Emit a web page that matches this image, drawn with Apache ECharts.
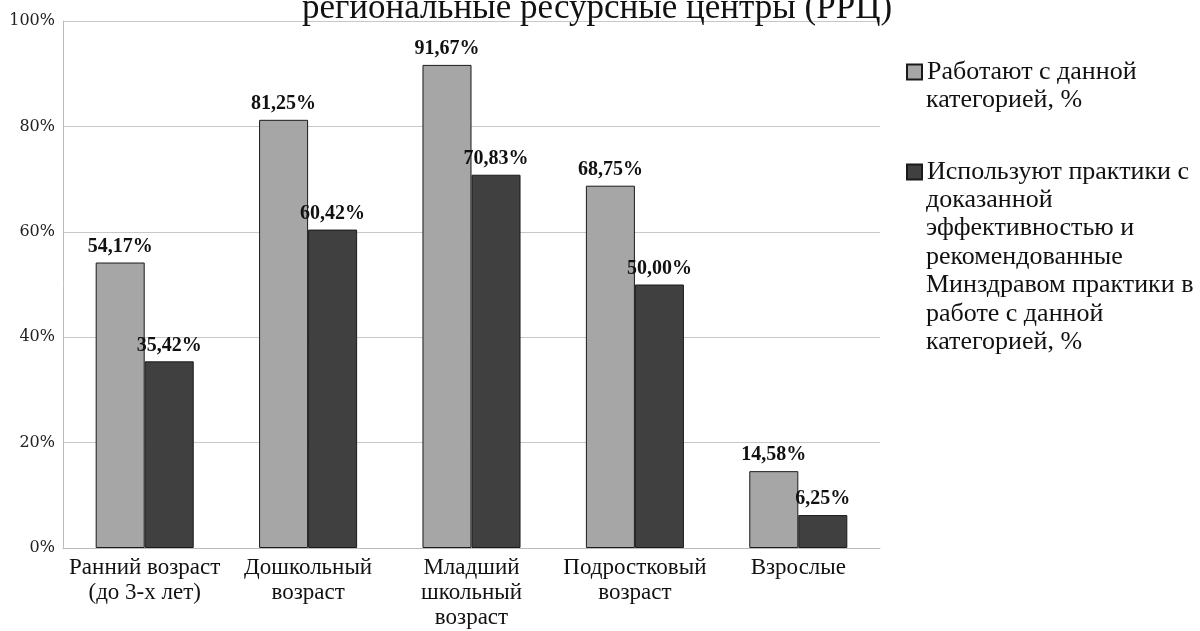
<!DOCTYPE html>
<html><head><meta charset="utf-8">
<script src="https://cdn.jsdelivr.net/npm/echarts@6/dist/echarts.min.js"></script>
<style>html,body{margin:0;padding:0;background:#fff}#c{width:1200px;height:631px}</style>
</head><body><div id="c"></div>
<script>
const titleText = 'региональные ресурсные центры (РРЦ)';
const categories = ['Ранний возраст\n(до 3-х лет)', 'Дошкольный\nвозраст', 'Младший\nшкольный\nвозраст', 'Подростковый\nвозраст', 'Взрослые'];
const seriesNames = ['Работают с данной категорией, %', 'Используют практики с доказанной эффективностью и рекомендованные Минздравом практики в работе с данной категорией, %'];
const legendLines = [
  ['Работают с данной', 'категорией, %'],
  ['Используют практики с', 'доказанной', 'эффективностью и', 'рекомендованные', 'Минздравом практики в', 'работе с данной', 'категорией, %']
];
const worksWith = [54.17, 81.25, 91.67, 68.75, 14.58];
const usesPractices = [35.42, 60.42, 70.83, 50.00, 6.25];
const yTicks = [0, 20, 40, 60, 80, 100];
const colors = ['#a6a6a6', '#404040'];

const LH = 28.5;
const LEG_FONT = 26;
const legendIconY = [70, 170];
const legendTextX = 926;

const chart = echarts.init(document.getElementById('c'));
const fmt = p => p.value.toFixed(2).replace('.', ',') + '%';
const labelStyle = {show: true, position: 'top', distance: 6, formatter: fmt,
  fontFamily: 'Liberation Serif', fontWeight: 'bold', fontSize: 20, color: '#111'};

const contGraphics = legendLines.map((lines, i) => ({
  type: 'text', left: legendTextX, top: legendIconY[i] + LH / 2 + 1.5,
  style: {text: lines.slice(1).join('\n'), fontFamily: 'Liberation Serif', fontSize: LEG_FONT,
    lineHeight: LH, fill: '#111'}
}));

chart.setOption({
  animation: false,
  backgroundColor: '#fff',
  title: {text: titleText, left: 592, textAlign: 'center', top: -14,
    textStyle: {fontFamily: 'Liberation Serif', fontWeight: 'normal', fontSize: 35, color: '#111'}},
  legend: {
    data: seriesNames, orient: 'vertical', left: 906, top: legendIconY[0] - LH / 2 + 2, padding: 0,
    itemWidth: 15, itemHeight: 15, itemGap: (legendIconY[1] - legendIconY[0]) - LH,
    icon: 'rect',
    formatter: name => legendLines[seriesNames.indexOf(name)][0],
    textStyle: {fontFamily: 'Liberation Serif', fontSize: LEG_FONT, lineHeight: LH, color: '#111'}
  },
  graphic: contGraphics,
  grid: {left: 63, right: 320, top: 21, bottom: 83, outerBoundsMode: 'none', containLabel: false},
  xAxis: {type: 'category', data: categories,
    axisLine: {lineStyle: {color: '#bcbcbc', width: 1}}, axisTick: {show: false},
    axisLabel: {fontFamily: 'Liberation Serif', fontSize: 23, lineHeight: 25, color: '#111', margin: 7, interval: 0}},
  yAxis: {type: 'value', min: yTicks[0], max: yTicks[yTicks.length - 1], interval: 20,
    axisLine: {show: true, lineStyle: {color: '#bcbcbc'}}, axisTick: {show: false},
    splitLine: {lineStyle: {color: '#c8c8c8', width: 1}},
    axisLabel: {formatter: '{value}%', fontFamily: 'DejaVu Serif', fontSize: 16, color: '#222', margin: 8}},
  series: [
    {name: seriesNames[0], type: 'bar', data: worksWith, barGap: '0%', barCategoryGap: '40%',
      itemStyle: {color: colors[0], borderColor: '#1a1a1a', borderWidth: 1}, label: labelStyle},
    {name: seriesNames[1], type: 'bar', data: usesPractices,
      itemStyle: {color: colors[1], borderColor: '#1a1a1a', borderWidth: 1}, label: labelStyle}
  ]
});
</script></body></html>
